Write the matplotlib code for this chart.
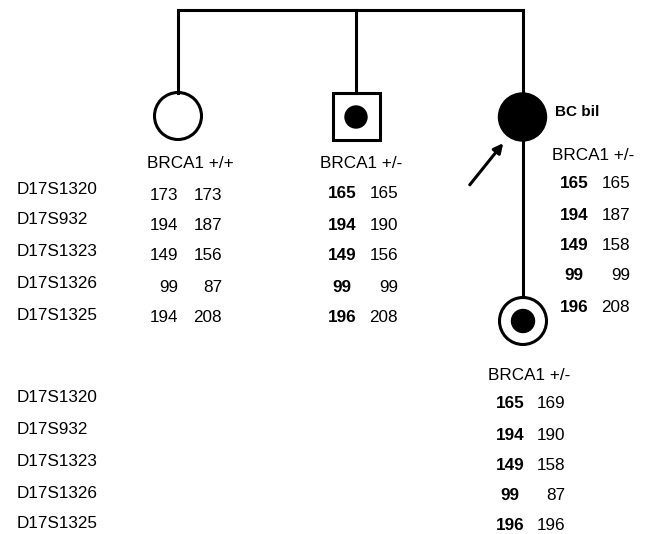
import matplotlib.pyplot as plt
from matplotlib.patches import Circle, Rectangle

plt.rcParams['font.family'] = ['Liberation Sans', 'DejaVu Sans']

# Marker names and genotypes (bold = haplotype carrying the mutation)
markers = ['D17S1320', 'D17S932', 'D17S1323', 'D17S1326', 'D17S1325']
sister_a1 = [173, 194, 149, 99, 194]
sister_a2 = [173, 187, 156, 87, 208]
brother_a1 = [165, 194, 149, 99, 196]
brother_a2 = [165, 190, 156, 99, 208]
proband_a1 = [165, 194, 149, 99, 196]
proband_a2 = [165, 187, 158, 99, 208]
daughter_a1 = [165, 194, 149, 99, 196]
daughter_a2 = [169, 190, 158, 87, 196]
status = ['BRCA1 +/+', 'BRCA1 +/-', 'BRCA1 +/-', 'BRCA1 +/-']

fig = plt.figure(figsize=(6.46, 5.34), dpi=100)
ax = fig.add_axes([0, 0, 1, 1])
ax.set_xlim(0, 646)
ax.set_ylim(534, 0)
ax.axis('off')

lw = 2.2
fs = 12.3

# sibship line
ax.plot([178, 523], [10, 10], color='black', lw=lw, solid_capstyle='projecting')
for x in [178, 356, 523]:
    ax.plot([x, x], [10, 93], color='black', lw=lw)

# sister: unaffected female
ax.add_patch(Circle((178, 116), 23.5, facecolor='white', edgecolor='black', lw=lw))
# brother: carrier male
ax.add_patch(Rectangle((333, 93), 47, 47, facecolor='white', edgecolor='black', lw=lw))
ax.add_patch(Circle((356, 117), 11, color='black'))
# proband: affected female
ax.add_patch(Circle((522.5, 117), 24, color='black'))
ax.text(555, 112, 'BC bil', fontsize=11, fontweight='bold', va='center', ha='left')
ax.annotate('', xy=(505, 141), xytext=(468, 187),
            arrowprops=dict(arrowstyle='-|>', color='black', lw=2.2, mutation_scale=14))
# daughter: carrier female
ax.plot([523, 523], [140, 297], color='black', lw=lw)
ax.add_patch(Circle((523, 321), 23.5, facecolor='white', edgecolor='black', lw=lw))
ax.add_patch(Circle((523, 321), 11.5, color='black'))

# marker labels
for y, m in zip([189, 220, 251, 283, 315], markers):
    ax.text(17, y, m, fontsize=fs, va='center', ha='left')
for y, m in zip([398, 430, 462, 493, 524], markers):
    ax.text(17, y, m, fontsize=fs, va='center', ha='left')


def genotype(x_status, y_status, label, x1, ha1, x2, ys, a1, a2, bold):
    ax.text(x_status, y_status, label, fontsize=fs, va='center', ha='left')
    for y, v1, v2 in zip(ys, a1, a2):
        ax.text(x1, y, str(v1), fontsize=fs, va='center', ha=ha1,
                fontweight='bold' if bold else 'normal')
        ax.text(x2, y, str(v2), fontsize=fs, va='center', ha='right')


genotype(147, 163, status[0], 178, 'right', 222, [195, 225, 256, 287, 318],
         sister_a1, sister_a2, False)
genotype(320, 163, status[1], 342, 'center', 398, [193, 225, 255, 287, 317],
         brother_a1, brother_a2, True)
genotype(552, 155, status[2], 574, 'center', 630, [184, 215, 246, 276, 307],
         proband_a1, proband_a2, True)
genotype(488, 375, status[3], 510, 'center', 565, [404, 435, 465, 496, 526],
         daughter_a1, daughter_a2, True)

fig.savefig('out.png', dpi=100)
